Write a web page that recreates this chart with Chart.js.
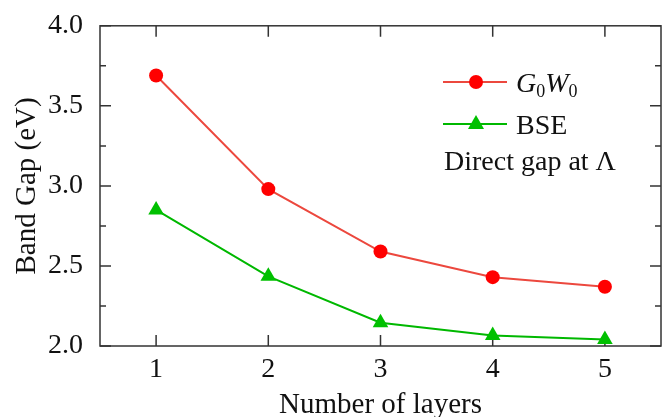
<!DOCTYPE html>
<html>
<head>
<meta charset="utf-8">
<script src="https://cdn.jsdelivr.net/npm/chart.js@4/dist/chart.umd.min.js"></script>
<style>
  body { margin: 0; background: #fff; }
  #wrap { width: 670px; height: 417px; }
</style>
</head>
<body>
<div id="wrap"><canvas id="gapChart" width="670" height="417"></canvas></div>
<script>
const layers = [1, 2, 3, 4, 5];
const g0w0 = [3.69, 2.98, 2.59, 2.43, 2.37];
const bse = [2.85, 2.435, 2.145, 2.065, 2.04];
const yTicks = [2.0, 2.5, 3.0, 3.5, 4.0];
const yMinor = [2.25, 2.75, 3.25, 3.75];

const serif = "'Liberation Serif', 'Times New Roman', serif";
const redLine = 'rgb(236,72,62)';
const redDot = 'rgb(255,0,0)';
const greenLine = 'rgb(0,184,0)';
const greenDot = 'rgb(0,192,0)';

// frame with inward ticks on all four sides
const framePlugin = {
    id: 'frame',
    beforeDatasetsDraw(chart) {
        const { ctx, chartArea: a, scales: { x, y } } = chart;
        ctx.save();
        ctx.strokeStyle = '#333';
        ctx.lineWidth = 1.5;
        ctx.beginPath();
        layers.forEach(v => {
            const px = x.getPixelForValue(v);
            ctx.moveTo(px, a.bottom); ctx.lineTo(px, a.bottom - 11);
            ctx.moveTo(px, a.top); ctx.lineTo(px, a.top + 11);
        });
        yTicks.forEach(v => {
            const py = y.getPixelForValue(v);
            ctx.moveTo(a.left, py); ctx.lineTo(a.left + 11, py);
            ctx.moveTo(a.right, py); ctx.lineTo(a.right - 11, py);
        });
        yMinor.forEach(v => {
            const py = y.getPixelForValue(v);
            ctx.moveTo(a.left, py); ctx.lineTo(a.left + 6, py);
            ctx.moveTo(a.right, py); ctx.lineTo(a.right - 6, py);
        });
        ctx.stroke();
        ctx.strokeRect(a.left, a.top, a.right - a.left, a.bottom - a.top);

        // x tick labels and both axis titles
        ctx.fillStyle = '#111';
        ctx.font = '28px ' + serif;
        ctx.textAlign = 'center';
        ctx.textBaseline = 'alphabetic';
        layers.forEach(v => ctx.fillText(String(v), x.getPixelForValue(v), a.bottom + 31));
        ctx.font = '29px ' + serif;
        ctx.fillText('Number of layers', (a.left + a.right) / 2, 413);
        ctx.translate(35, (a.top + a.bottom) / 2);
        ctx.rotate(-Math.PI / 2);
        ctx.fillText('Band Gap (eV)', 0, 0);
        ctx.restore();
    }
};

// legend block with subscripted G0W0 and the note line
const legendPlugin = {
    id: 'gapLegend',
    afterDraw(chart) {
        const { ctx } = chart;
        ctx.save();
        ctx.lineWidth = 2;

        ctx.strokeStyle = redLine;
        ctx.beginPath(); ctx.moveTo(443, 82); ctx.lineTo(507, 82); ctx.stroke();
        ctx.fillStyle = redDot;
        ctx.beginPath(); ctx.arc(476, 82, 7, 0, Math.PI * 2); ctx.fill();

        ctx.strokeStyle = greenLine;
        ctx.beginPath(); ctx.moveTo(443, 124); ctx.lineTo(507, 124); ctx.stroke();
        ctx.fillStyle = greenDot;
        ctx.beginPath();
        ctx.moveTo(476, 115); ctx.lineTo(484, 129); ctx.lineTo(468, 129);
        ctx.closePath(); ctx.fill();

        ctx.fillStyle = '#111';
        ctx.textBaseline = 'alphabetic';
        let cx = 516;
        const parts = [['G', 'italic 28px', 0], ['0', '18px', 5], ['W', 'italic 28px', 0], ['0', '18px', 5]];
        parts.forEach(([t, f, dy]) => {
            ctx.font = f + ' ' + serif;
            ctx.fillText(t, cx, 92 + dy);
            cx += ctx.measureText(t).width;
        });
        ctx.font = '28px ' + serif;
        ctx.fillText('BSE', 516, 134);
        ctx.fillText('Direct gap at \u039B', 444, 170);
        ctx.restore();
    }
};

new Chart(document.getElementById('gapChart'), {
    type: 'line',
    data: {
        datasets: [{
            label: 'G0W0',
            data: layers.map((n, i) => ({ x: n, y: g0w0[i] })),
            borderColor: redLine,
            borderWidth: 2,
            pointStyle: 'circle',
            pointRadius: 7,
            pointBackgroundColor: redDot,
            pointBorderWidth: 0
        }, {
            label: 'BSE',
            data: layers.map((n, i) => ({ x: n, y: bse[i] })),
            borderColor: greenLine,
            borderWidth: 2,
            pointStyle: 'triangle',
            pointRadius: 9,
            pointBackgroundColor: greenDot,
            pointBorderWidth: 0
        }]
    },
    options: {
        responsive: false,
        animation: false,
        devicePixelRatio: 1,
        layout: { padding: { top: 23, right: 8, left: 0, bottom: 0 } },
        plugins: { legend: { display: false }, tooltip: { enabled: false } },
        scales: {
            x: {
                type: 'linear',
                min: 0.5,
                max: 5.5,
                afterBuildTicks: s => { s.ticks = layers.map(v => ({ value: v })); },
                afterFit: s => { s.height = 71; },
                grid: { display: false },
                border: { display: false },
                ticks: { display: false }
            },
            y: {
                min: 2.0,
                max: 4.0,
                afterBuildTicks: s => { s.ticks = yTicks.map(v => ({ value: v })); },
                afterFit: s => { s.width = 100; },
                grid: { display: false },
                border: { display: false },
                ticks: {
                    color: '#111',
                    padding: 9,
                    font: { family: serif, size: 28 },
                    callback: v => v.toFixed(1)
                }
            }
        }
    },
    plugins: [framePlugin, legendPlugin]
});
</script>
</body>
</html>
